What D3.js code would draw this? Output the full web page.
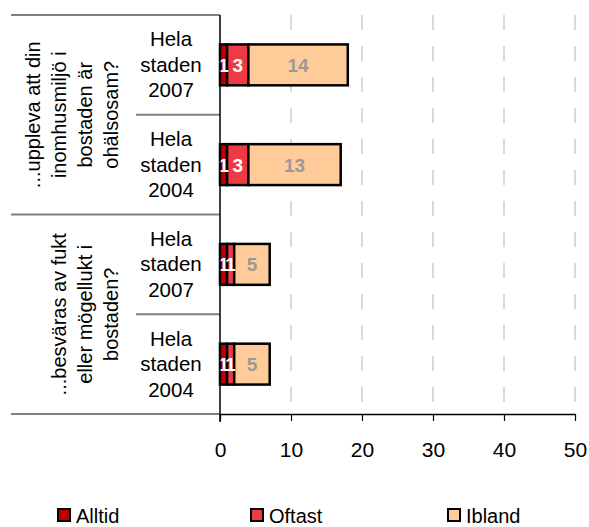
<!DOCTYPE html>
<html lang="sv">
<head>
<meta charset="utf-8">
<title>Fukt och inomhusmiljö</title>
<script src="https://cdnjs.cloudflare.com/ajax/libs/d3/7.8.5/d3.min.js"></script>
<style>
  body { margin: 0; background: #fff; }
  svg text { font-family: "Liberation Sans", Arial, sans-serif; }
</style>
</head>
<body>
<script>
// chart data
const questions = [
  ["...uppleva att din", "inomhusmiljö i", "bostaden är", "ohälsosam?"],
  ["...besväras av fukt", "eller mögellukt i", "bostaden?"]
];
const rows = ["Hela staden 2007", "Hela staden 2004", "Hela staden 2007", "Hela staden 2004"];
const seriesNames = ["Alltid", "Oftast", "Ibland"];
const alltid = [1, 1, 1, 1];
const oftast = [3, 3, 1, 1];
const ibland = [14, 13, 5, 5];
const ticks = [0, 10, 20, 30, 40, 50];

const colors = ["#c00000", "#ee3b43", "#ffcc99"];
const labelColors = ["#fff", "#fff", "#999"];

const width = 589, height = 527;
const svg = d3.select("body").append("svg")
  .attr("width", width).attr("height", height);

const table = rows.map((r, i) => ({ key: i, Alltid: alltid[i], Oftast: oftast[i], Ibland: ibland[i] }));
const stacked = d3.stack().keys(seriesNames)(table);

const x = d3.scaleLinear().domain([0, 50]).range([220, 575]);
const y = d3.scaleBand().domain(d3.range(rows.length)).range([15, 414])
  .paddingInner(0.59).paddingOuter(0.295);

// dashed grid
svg.append("g").selectAll("line").data(ticks.slice(1)).join("line")
  .attr("x1", d => x(d)).attr("x2", d => x(d))
  .attr("y1", 15).attr("y2", 414)
  .attr("stroke", "#d9d9d9").attr("stroke-width", 2)
  .attr("stroke-dasharray", "15,16");

// category divider lines
const step = y.step();
const dividers = [
  { y: 15, x1: 11 }, { y: 15 + step, x1: 136 }, { y: 15 + 2 * step, x1: 11 },
  { y: 15 + 3 * step, x1: 136 }, { y: 414, x1: 11 }
];
svg.append("g").selectAll("line").data(dividers).join("line")
  .attr("x1", d => d.x1).attr("x2", 220)
  .attr("y1", d => d.y).attr("y2", d => d.y)
  .attr("stroke", "#808080").attr("stroke-width", 2);

// bars
const layers = svg.append("g").selectAll("g").data(stacked).join("g")
  .attr("fill", (d, i) => colors[i]);
layers.selectAll("rect").data(d => d).join("rect")
  .attr("x", d => x(d[0])).attr("width", d => x(d[1]) - x(d[0]))
  .attr("y", (d, i) => y(i)).attr("height", y.bandwidth())
  .attr("stroke", "#000").attr("stroke-width", 2.5);

// bar value labels
stacked.forEach((s, si) => {
  svg.append("g").selectAll("text").data(s).join("text")
    .attr("x", d => (x(d[0]) + x(d[1])) / 2)
    .attr("y", (d, i) => y(i) + y.bandwidth() / 2 + 7)
    .attr("text-anchor", "middle")
    .attr("font-size", 19).attr("font-weight", "bold")
    .attr("fill", labelColors[si])
    .text(d => d[1] - d[0]);
});

// x axis
const xAxis = svg.append("g").attr("transform", "translate(0,414)")
  .call(d3.axisBottom(x).tickValues(ticks).tickSize(7).tickSizeOuter(0));
xAxis.select(".domain").attr("stroke", "#000").attr("stroke-width", 1.5);
xAxis.selectAll(".tick line").attr("stroke", "#000").attr("stroke-width", 1.2);
xAxis.selectAll(".tick text").attr("font-size", 21).attr("dy", 0).attr("y", 43)
  .attr("fill", "#000").style("font-family", "'Liberation Sans', Arial, sans-serif");

// y axis line
svg.append("line").attr("x1", 220).attr("x2", 220).attr("y1", 15).attr("y2", 422)
  .attr("stroke", "#000").attr("stroke-width", 1.5);

// row labels
rows.forEach((r, i) => {
  const words = r.split(" ");
  const cy = y(i) + y.bandwidth() / 2;
  svg.append("text").attr("text-anchor", "middle").attr("font-size", 20.5)
    .selectAll("tspan").data(words).join("tspan")
    .attr("x", 171).attr("y", (d, k) => cy + (k - 1) * 25.5 + 7)
    .text(d => d);
});

// rotated question labels
questions.forEach((lines, gi) => {
  const cy = 15 + step * (2 * gi + 1);
  const n = lines.length;
  svg.append("text")
    .attr("transform", `translate(${111 + 7},${cy}) rotate(-90)`)
    .attr("text-anchor", "middle").attr("font-size", 20)
    .selectAll("tspan").data(lines).join("tspan")
    .attr("x", 0).attr("y", (d, k) => (k - (n - 1)) * 26)
    .text(d => d);
});

// legend
const legendX = [58, 251, 448];
const legend = svg.append("g").selectAll("g").data(seriesNames).join("g")
  .attr("transform", (d, i) => `translate(${legendX[i]},509)`);
legend.append("rect").attr("width", 12).attr("height", 12)
  .attr("fill", (d, i) => colors[i]).attr("stroke", "#000").attr("stroke-width", 2);
legend.append("text").attr("x", 18).attr("y", 14).attr("font-size", 20).text(d => d);
</script>
</body>
</html>
